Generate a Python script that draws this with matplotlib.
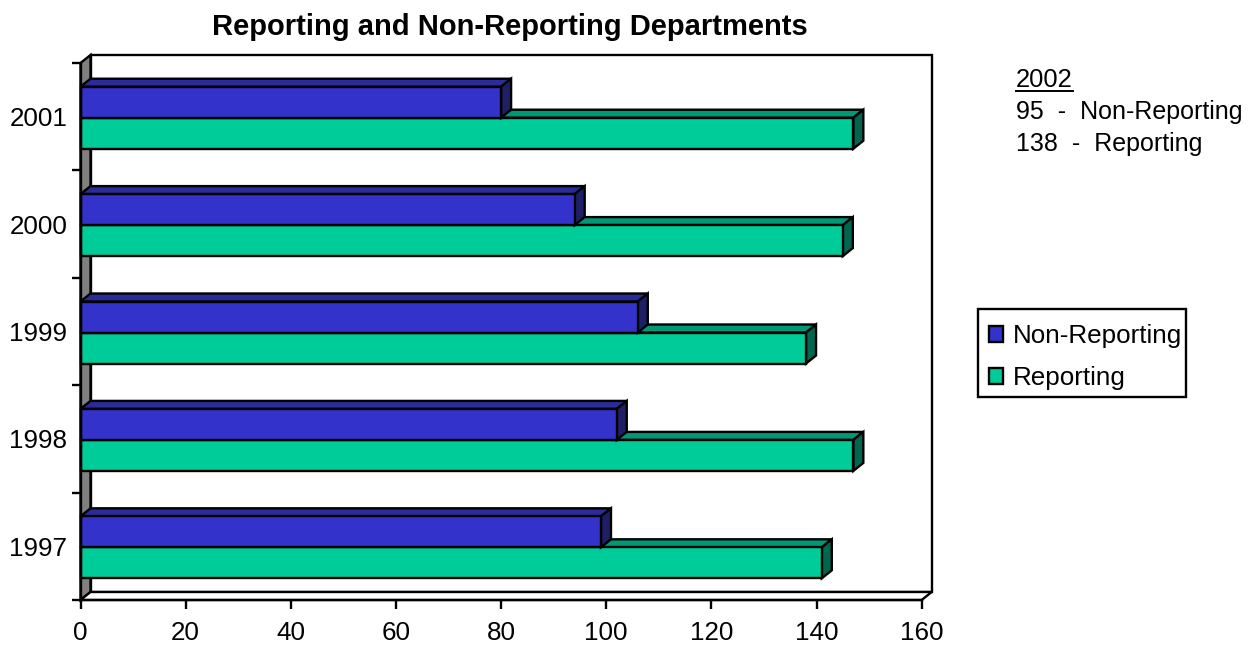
import matplotlib
matplotlib.use("Agg")
import matplotlib.pyplot as plt
from matplotlib.patches import Polygon, Patch, Rectangle
from matplotlib.lines import Line2D

plt.rcParams['font.family'] = ['Liberation Sans', 'DejaVu Sans']

# data
years = ['1997', '1998', '1999', '2000', '2001']
non_reporting = [99, 102, 106, 94, 80]
reporting = [141, 147, 138, 145, 147]
x_ticks = [0, 20, 40, 60, 80, 100, 120, 140, 160]

BLUE = '#3333CC'
BLUE_TOP = '#2B2B99'
BLUE_SIDE = '#1F1F66'
GREEN = '#00CC99'
GREEN_TOP = '#009977'
GREEN_SIDE = '#006650'
LW = 1.7

W, H = 1250, 645
fig = plt.figure(figsize=(W / 100, H / 100), dpi=100, facecolor='white')
# front plane of the fake 3d box
ax = fig.add_axes([80.5 / W, 1 - 600 / H, 841.2 / W, 537 / H])
ax.set_xlim(0, 160)
ax.set_ylim(0, 5)

# depth of the box, in data units (10px right, 8px up)
dx = 10 / (841.2 / 160)
dy = 8 / (537 / 5)


def poly(points, color, z):
    ax.add_patch(Polygon(points, closed=True, facecolor=color, edgecolor='black',
                         linewidth=LW, clip_on=False, zorder=z, joinstyle='miter'))


# back wall, left wall, floor
poly([(dx, dy), (160 + dx, dy), (160 + dx, 5 + dy), (dx, 5 + dy)], 'white', 1)
poly([(0, 0), (dx, dy), (dx, 5 + dy), (0, 5)], '#808080', 1.5)
poly([(0, 0), (160, 0), (160 + dx, dy), (dx, dy)], 'white', 1.5)

bar_h = 31 / (537 / 5)
shift = -1 / (537 / 5)


def bar3d(values, offset, face, top, side, z):
    for i, v in enumerate(values):
        y = i + 0.5 + offset + shift
        y0, y1 = y - bar_h / 2, y + bar_h / 2
        poly([(0, y1), (v, y1), (v + dx, y1 + dy), (dx, y1 + dy)], top, z)
        poly([(v, y0), (v + dx, y0 + dy), (v + dx, y1 + dy), (v, y1)], side, z)
    ax.barh([i + 0.5 + offset + shift for i in range(len(values))], values, height=bar_h,
            color=face, edgecolor='black', linewidth=LW, zorder=z + 0.1, clip_on=False)


bar3d(reporting, -bar_h / 2, GREEN, GREEN_TOP, GREEN_SIDE, 3)
bar3d(non_reporting, bar_h / 2, BLUE, BLUE_TOP, BLUE_SIDE, 4)

for s in ['top', 'right']:
    ax.spines[s].set_visible(False)
for s in ['left', 'bottom']:
    ax.spines[s].set_linewidth(LW)
    ax.spines[s].set_zorder(6)
ax.patch.set_visible(False)

ax.set_xticks(x_ticks)
ax.set_yticks(range(6))
ax.set_yticklabels([])
ax.set_yticks([i + 0.5 for i in range(5)], labels=years, minor=True)
ax.tick_params(axis='x', which='major', length=6.5, width=LW, pad=8.8, labelsize=18.7)
ax.tick_params(axis='y', which='major', length=6.5, width=LW)
ax.tick_params(axis='y', which='minor', length=0, pad=9.5, labelsize=18.7)

fig.text(510 / W, 1 - 27 / H, 'Reporting and Non-Reporting Departments',
         fontsize=21, fontweight='bold', ha='center', va='center')

# side note
fig.text(1016 / W, 1 - 87 / H, '2002', fontsize=18.4, va='baseline')
fig.add_artist(Line2D([1016 / W, 1073 / W], [1 - 90.5 / H, 1 - 90.5 / H], color='black', linewidth=1.4))
fig.text(1016 / W, 1 - 119 / H, '95  -  Non-Reporting', fontsize=18, va='baseline')
fig.text(1016 / W, 1 - 151 / H, '138  -  Reporting', fontsize=18, va='baseline')

# legend box is a bit off-centre round its text, so the frame is drawn apart
fig.add_artist(Rectangle((978 / W, 1 - 397 / H), 208 / W, 88 / H, transform=fig.transFigure,
                         facecolor='white', edgecolor='black', linewidth=LW))
handles = [Patch(facecolor=BLUE, edgecolor='black', linewidth=LW, label='Non-Reporting'),
           Patch(facecolor=GREEN, edgecolor='black', linewidth=LW, label='Reporting')]
leg = fig.legend(handles=handles, loc='upper left', bbox_to_anchor=(989 / W, 1 - 324 / H),
                 fontsize=18.7, frameon=False, handlelength=0.55, handleheight=0.55,
                 handletextpad=0.36, labelspacing=0.71, borderpad=0, borderaxespad=0)

plt.savefig('out.png', dpi=100)
